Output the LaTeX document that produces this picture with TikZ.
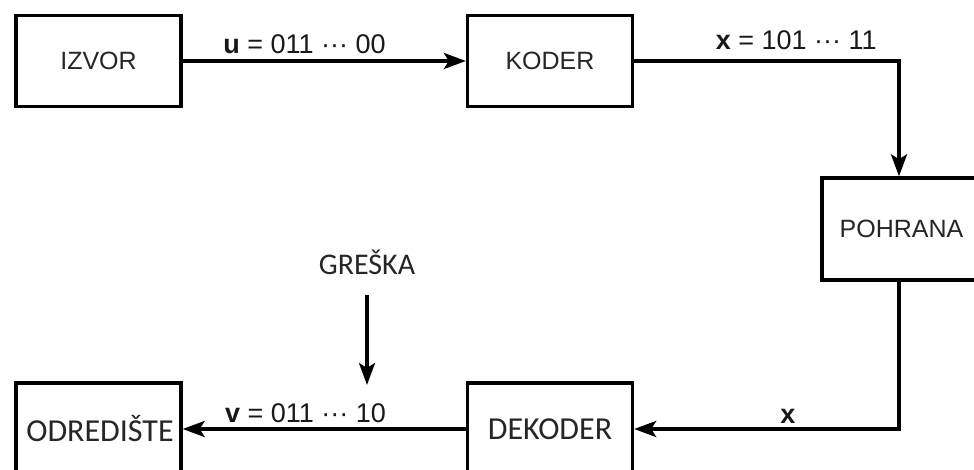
\documentclass[tikz,border=0pt]{standalone}
\usepackage{fontspec}
\setmainfont{Liberation Sans}
\newfontfamily\calib{Carlito}
\usetikzlibrary{arrows.meta}
\begin{document}
\begin{tikzpicture}[x=1pt,y=-1pt,
  blk/.style={draw=black, line width=3.3pt, minimum width=165pt, minimum height=91pt, inner sep=0pt, anchor=center, text=black!85},
  arialtxt/.style={font=\fontsize{25}{30}\selectfont},
  calibtxt/.style={font=\calib\fontsize{32}{38}\selectfont},
  lbl/.style={font=\fontsize{27}{32}\selectfont, anchor=base, inner sep=0pt, text=black!90},
  conn/.style={line width=3.5pt, -{Stealth[length=22pt,width=16pt,inset=5pt]}}
]
\useasboundingbox (0,0) rectangle (974,470);
\fill[white] (0,0) rectangle (974,470);
\node[blk, arialtxt] (izvor) at (98.5,61) {IZVOR};
\node[blk, arialtxt] (koder) at (550,61) {KODER};
\node[blk, arialtxt, minimum width=154pt, minimum height=102pt] (pohrana) at (899,229) {\hspace*{5pt}POHRANA};
\node[blk, calibtxt, minimum height=92pt] (dekoder) at (550,429) {DEKODER};
\node[blk, calibtxt, minimum height=92pt] (odrediste) at (98.5,429) {\hspace*{3pt}ODREDIŠTE};
\node[calibtxt, font=\calib\fontsize{30}{36}\selectfont, anchor=base, inner sep=0pt, text=black!85] (greska) at (367,275) {GREŠKA};
\coordinate (errtip) at (367,385);
\draw[conn] (izvor.east) -- (koder.west)
  node[lbl, pos=0.43, yshift=7pt] {\textbf{u} = 011 ··· 00};
\draw[conn] (koder.east) -| (pohrana.north)
  node[lbl, pos=0.306, yshift=11pt] {\textbf{x} = 101 ··· 11};
\draw[conn] (pohrana.south) |- (dekoder.east)
  node[lbl, pos=0.71, yshift=6pt] {\textbf{x}};
\draw[conn] (dekoder.west) -- (odrediste.east)
  node[lbl, pos=0.566, yshift=7pt] {\textbf{v} = 011 ··· 10};
\draw[conn, shorten <=20pt] (greska.south) -- (errtip);
\end{tikzpicture}
\end{document}
